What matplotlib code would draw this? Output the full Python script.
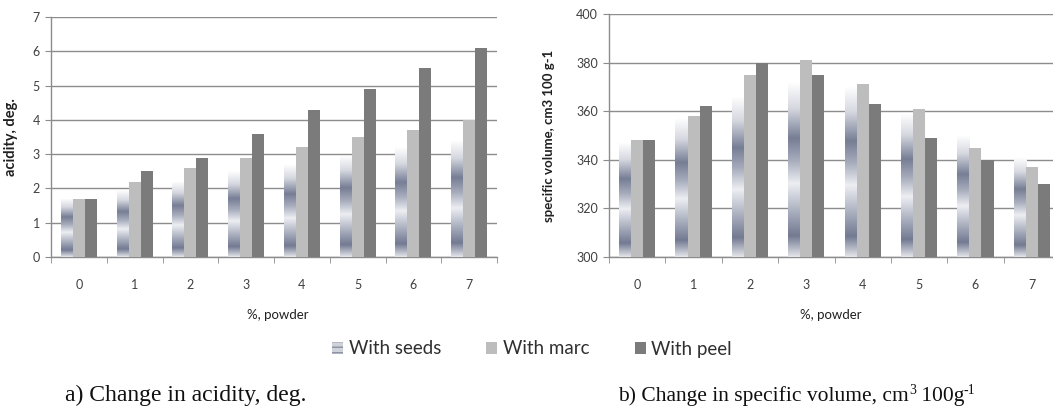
import numpy as np
import matplotlib
matplotlib.use("Agg")
import matplotlib.pyplot as plt
from matplotlib.colors import LinearSegmentedColormap
from matplotlib.patches import Patch
from matplotlib.transforms import offset_copy

categories = ["0", "1", "2", "3", "4", "5", "6", "7"]
series_names = ["With seeds", "With marc", "With peel"]

acid_seeds = [1.7, 1.95, 2.2, 2.5, 2.7, 2.95, 3.2, 3.4]
acid_marc = [1.7, 2.2, 2.6, 2.9, 3.2, 3.5, 3.7, 4.0]
acid_peel = [1.7, 2.5, 2.9, 3.6, 4.3, 4.9, 5.5, 6.1]

vol_seeds = [347, 357, 366, 372, 370, 359, 350, 341]
vol_marc = [348, 358, 375, 381, 371, 361, 345, 337]
vol_peel = [348, 362, 380, 375, 363, 349, 340, 330]

x_label = "%, powder"
y_label_a = "acidity, deg."
y_label_b = "specific volume, cm3 100 g-1"
caption_a = "a) Change in acidity, deg."
caption_b_parts = [("b) Change in specific volume, cm", False), ("3", True),
                   (" 100g", False), ("-1", True)]

MARC = "#bdbdbd"
PEEL = "#7b7b7b"
GRID = "#8c8c8c"
TXT = "#404040"

stripe_cmap = LinearSegmentedColormap.from_list(
    "stripes",
    [(0.0, "#e4e5ea"), (0.12, "#727a92"), (0.22, "#9aa0b2"), (0.42, "#eceef2"),
     (0.55, "#a8adbd"), (0.68, "#767e95"), (0.85, "#d6d8e0"), (1.0, "#ffffff")])

plt.rcParams["font.family"] = ["Lato", "DejaVu Sans"]

fig = plt.figure(figsize=(10.53, 4.07), dpi=100)
W, H = 1053, 407


def px_axes(x0, x1, ytop, ybot):
    return fig.add_axes([x0 / W, 1 - ybot / H, (x1 - x0) / W, (ybot - ytop) / H])


def draw(ax, seeds, marc, peel, ymin, ymax, ystep, ylabel):
    x = np.arange(len(categories))
    w = 0.215
    ax.set_xlim(-0.5, len(categories) - 0.5)
    ax.set_ylim(ymin, ymax)
    seeds = np.asarray(seeds, float)
    bars = ax.bar(x - w, seeds - ymin, bottom=ymin, width=w, color="none",
                  edgecolor="none", zorder=3)
    grad = np.linspace(0, 1, 256).reshape(-1, 1)
    for b in bars:
        im = ax.imshow(grad, cmap=stripe_cmap, origin="lower", aspect="auto",
                       extent=[b.get_x(), b.get_x() + b.get_width(),
                               b.get_y(), b.get_y() + b.get_height()],
                       zorder=3, interpolation="bilinear")
        im.set_clip_path(b)
    ax.bar(x, np.asarray(marc, float) - ymin, bottom=ymin, width=w, color=MARC, zorder=3)
    ax.bar(x + w, np.asarray(peel, float) - ymin, bottom=ymin, width=w, color=PEEL, zorder=3)
    ax.set_xlim(-0.5, len(categories) - 0.5)
    ax.set_ylim(ymin, ymax)
    ax.set_yticks(np.arange(ymin, ymax + ystep / 2, ystep))
    ax.yaxis.grid(True, color=GRID, linewidth=1.0, zorder=0)
    ax.set_axisbelow(True)
    ax.set_xticks(x)
    ax.set_xticklabels(categories)
    ax.set_xticks(np.arange(-0.5, len(categories)), minor=True)
    ax.tick_params(axis="x", which="major", length=0, pad=16, labelsize=9, labelcolor=TXT)
    ax.tick_params(axis="x", which="minor", length=4, color=GRID, direction="out")
    ax.tick_params(axis="y", length=4, color=GRID, labelsize=9, labelcolor=TXT, pad=4)
    for s in ("top", "right"):
        ax.spines[s].set_visible(False)
    for s in ("left", "bottom"):
        ax.spines[s].set_color(GRID)
        ax.spines[s].set_linewidth(1.0)
    ax.set_ylabel(ylabel, fontsize=10.5, fontweight="bold", color="#202020")


ax1 = px_axes(51, 497, 17, 257)
draw(ax1, acid_seeds, acid_marc, acid_peel, 0, 7, 1, y_label_a)
ax1.yaxis.set_label_coords(-0.074, 0.5)

ax2 = px_axes(609, 1060, 14, 257)
draw(ax2, vol_seeds, vol_marc, vol_peel, 300, 400, 20, y_label_b)
ax2.yaxis.set_label_coords(-0.12, 0.5)
ax2.yaxis.label.set_fontsize(9.5)

fig.text(278 / W, 1 - 315 / H, x_label, ha="center", va="center", fontsize=9.5,
         color="#202020")
fig.text(831 / W, 1 - 315 / H, x_label, ha="center", va="center", fontsize=9.5,
         color="#202020")

handles = [Patch(facecolor="#d0d2da", edgecolor="#8a8fa0", hatch="---", linewidth=0),
           Patch(facecolor=MARC, edgecolor="none"),
           Patch(facecolor=PEEL, edgecolor="none")]
fig.legend(handles, series_names, loc="center", bbox_to_anchor=(532 / W, 1 - 349 / H),
           ncol=3, frameon=False, fontsize=13.5, handlelength=0.6, handleheight=0.6,
           handletextpad=0.3, columnspacing=2.4, labelcolor="#303030")

base_y = 1 - 401 / H
fig.text(65 / W, base_y, caption_a, ha="left", va="baseline", fontsize=17,
         family="Liberation Serif", color="#101010")

renderer = fig.canvas.get_renderer()
tr = fig.transFigure
x0 = 618 / W
offset_px = 0.0
for txt, sup in caption_b_parts:
    t = fig.text(x0, base_y, txt, ha="left", va="baseline",
                 fontsize=10 if sup else 15.5, family="Liberation Serif", color="#101010",
                 transform=offset_copy(tr, fig=fig, x=offset_px * 72 / fig.dpi,
                                       y=(7 if sup else 0) * 72 / fig.dpi, units="points"))
    bb = t.get_window_extent(renderer=renderer)
    offset_px += bb.width

fig.savefig("out.png", dpi=100)
